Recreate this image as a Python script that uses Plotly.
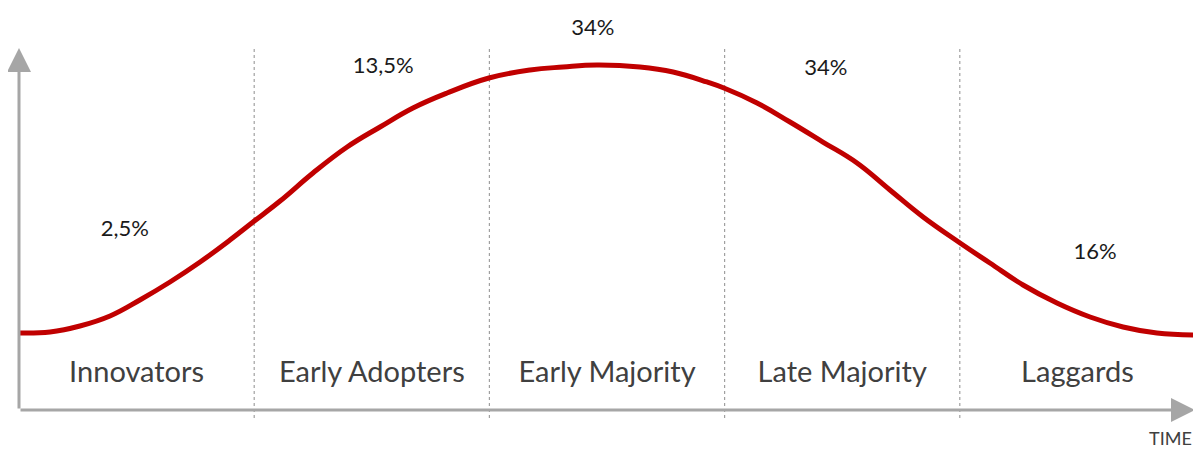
import plotly.graph_objects as go

# Adoption curve: time in segment units (0..5), height in arbitrary units above the axis
curve_x = [0.000, 0.132, 0.259, 0.387, 0.514, 0.642, 0.770, 0.897, 0.995, 1.110, 1.250,
           1.395, 1.535, 1.675, 1.820, 1.998, 2.173, 2.313, 2.457, 2.640, 2.781, 2.925,
           2.997, 3.138, 3.278, 3.418, 3.563, 3.703, 3.844, 4.001, 4.128, 4.269, 4.413,
           4.554, 4.694, 4.838, 5.000]
curve_y = [21.27, 21.55, 23.20, 25.97, 30.39, 35.36, 40.88, 46.96, 51.93, 57.73, 65.47,
           72.65, 78.18, 83.43, 87.57, 91.71, 93.92, 94.75, 95.30, 94.75, 93.37, 90.61,
           88.95, 84.81, 79.56, 74.03, 68.23, 60.77, 53.31, 46.13, 40.61, 34.53, 29.56,
           25.69, 22.93, 21.27, 20.72]

categories = ["Innovators", "Early Adopters", "Early Majority", "Late Majority", "Laggards"]
cat_x = [0.5, 1.5, 2.5, 3.5, 4.5]
cat_y = 9.7

pct_labels = ["2,5%", "13,5%", "34%", "34%", "16%"]
pct_x = [0.45, 1.548, 2.44, 3.43, 4.575]
pct_y = [49.7, 94.5, 105.2, 94.2, 43.1]

dividers = [1, 2, 3, 4]
x_max = 5.0
y_max = 100.0
axis_title = "TIME"
axis_title_x = 4.894
axis_title_y = -7.8

# Scale: origin at page pixel (19, 410); 235.2 px per x unit, 3.62 px per y unit.
# The page body has an 8 px margin, so the figure starts at page pixel (8, 8).
W, H = 1201, 450
off = 8
x0_px, y0_px, sx, sy = 19, 410, 235.2, 3.62
x_range = [(off - x0_px) / sx, (off + W - x0_px) / sx]
y_range = [(y0_px - (off + H)) / sy, (y0_px - off) / sy]

AXIS = "#a6a6a6"
TEXT = "#404040"
FONT = "Lato, Open Sans, sans-serif"

fig = go.Figure()

for d in dividers:
    fig.add_trace(go.Scatter(x=[d, d], y=[-2.2, y_max], mode="lines",
                             line=dict(color="#a0a0a0", width=1.2, dash="dot"),
                             hoverinfo="skip", showlegend=False))

fig.add_trace(go.Scatter(x=curve_x, y=curve_y, mode="lines",
                         line=dict(color="#c00000", width=5, shape="spline", smoothing=1.2),
                         hoverinfo="skip", showlegend=False))

fig.add_trace(go.Scatter(x=cat_x, y=[cat_y] * len(cat_x), mode="text", text=categories,
                         textfont=dict(family=FONT, size=29, color=TEXT),
                         hoverinfo="skip", showlegend=False))

fig.add_trace(go.Scatter(x=pct_x, y=pct_y, mode="text", text=pct_labels,
                         textfont=dict(family=FONT, size=22, color="#1a1a1a"),
                         hoverinfo="skip", showlegend=False))

annotations = [
    dict(x=x_max, y=0, ax=0, ay=0, xref="x", yref="y", axref="x", ayref="y",
         showarrow=True, arrowhead=2, arrowsize=1.6, arrowwidth=3, arrowcolor=AXIS,
         text="", standoff=0, startstandoff=0),
    dict(x=0, y=y_max, ax=0, ay=0, xref="x", yref="y", axref="x", ayref="y",
         showarrow=True, arrowhead=2, arrowsize=1.6, arrowwidth=3, arrowcolor=AXIS,
         text="", standoff=0, startstandoff=0),
    dict(x=axis_title_x, y=axis_title_y, xref="x", yref="y", text=axis_title, showarrow=False,
         xanchor="center", yanchor="middle",
         font=dict(family=FONT, size=18, color=TEXT)),
]

fig.update_layout(
    width=W, height=H,
    margin=dict(l=0, r=0, t=0, b=0),
    paper_bgcolor="white", plot_bgcolor="white",
    xaxis=dict(range=x_range, visible=False, fixedrange=True),
    yaxis=dict(range=y_range, visible=False, fixedrange=True),
    annotations=annotations,
    showlegend=False,
)

fig.write_html("out.html")
